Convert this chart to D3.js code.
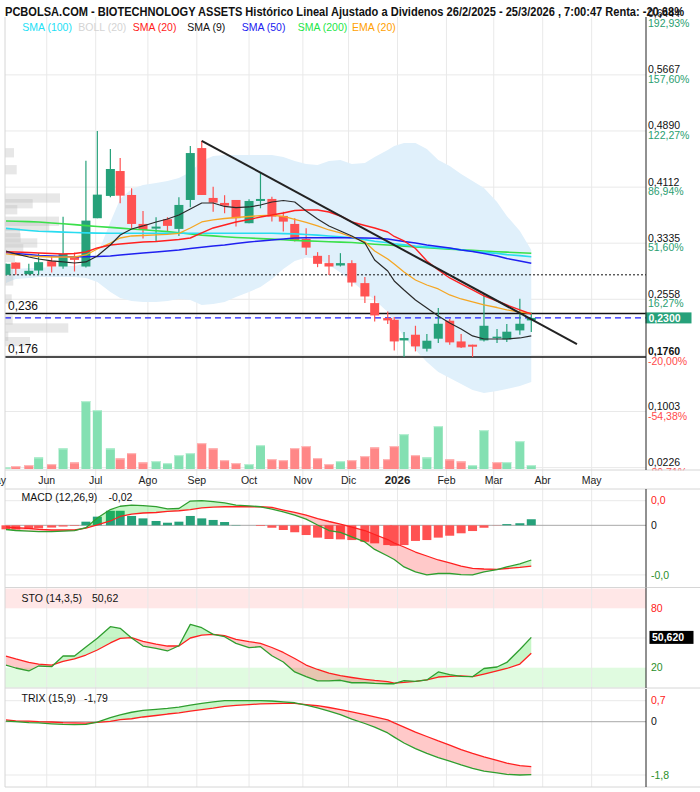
<!DOCTYPE html>
<html><head><meta charset="utf-8">
<script src="https://cdn.jsdelivr.net/npm/d3@7"></script>
<style>body{margin:0;background:#fff}svg{display:block}text{font-family:"Liberation Sans",Arial,sans-serif}</style>
</head><body><svg id="c" width="700" height="792"></svg>
<script>
// ---------------- DATA ----------------
const dates = ["2025-05-07","2025-05-13","2025-05-21","2025-05-27","2025-06-04","2025-06-11","2025-06-18","2025-06-25","2025-07-02","2025-07-10","2025-07-16","2025-07-23","2025-07-30","2025-08-07","2025-08-14","2025-08-21","2025-08-28","2025-09-04","2025-09-11","2025-09-18","2025-09-25","2025-10-03","2025-10-10","2025-10-17","2025-10-24","2025-10-31","2025-11-07","2025-11-14","2025-11-21","2025-11-28","2025-12-05","2025-12-13","2025-12-19","2025-12-27","2025-12-31","2026-01-06","2026-01-13","2026-01-20","2026-01-27","2026-02-03","2026-02-10","2026-02-17","2026-02-24","2026-03-04","2026-03-10","2026-03-18","2026-03-25"];
const open  = [.2897,.3067,.2907,.2956,.3086,.3012,.3150,.3012,.3681,.3990,.4335,.4003,.3602,.3537,.3667,.3533,.3934,.4653,.3962,.3893,.3934,.3612,.3920,.3948,.3713,.3602,.3395,.3160,.3059,.3026,.3059,.2782,.2505,.2298,.2274,.1988,.2067,.1873,.2012,.2261,.1974,.1929,.1988,.2026,.2002,.2127,.2265];
const high  = [.3055,.3067,.3049,.3197,.3150,.3703,.3205,.4478,.4888,.4640,.4515,.4096,.3782,.3695,.3695,.3971,.4681,.4754,.4118,.4000,.3934,.3944,.4312,.3980,.3772,.3681,.3543,.3211,.3173,.3197,.3100,.2865,.2606,.2389,.2312,.2104,.2191,.2077,.2436,.2284,.2077,.1929,.2644,.2146,.2215,.2565,.2375];
const low   = [.2890,.2897,.2900,.2897,.2929,.2980,.2943,.3000,.3681,.3971,.3889,.3543,.3399,.3357,.3496,.3436,.3833,.4003,.3772,.3750,.3565,.3612,.3819,.3634,.3496,.3357,.3173,.3003,.2893,.3012,.2735,.2505,.2251,.2215,.1850,.1759,.1836,.1836,.1952,.1929,.1883,.1759,.1974,.1952,.1966,.2067,.2104];
const close = [.3049,.2980,.2952,.3072,.3012,.3187,.3104,.3648,.4008,.4363,.3994,.3602,.3519,.3565,.3575,.3865,.4584,.4003,.3897,.3855,.3681,.3920,.3948,.3703,.3634,.3371,.3274,.3049,.3012,.3059,.2790,.2597,.2334,.2265,.1974,.2021,.1905,.1984,.2219,.1961,.1891,.1901,.2191,.2040,.2109,.2219,.2300];
const volume = [1.5,3,4,11.7,5,20.7,6.7,68,59,20.7,10.7,16,6.7,8,6,14,16,26,20.7,9,6,5,24,10,9,21,23,11,5,8,9,13,21.7,10,23,35,14,11.7,43,9.7,7.7,4,39,7,7,28,4];

const sma9   = [.3227,.3186,.3144,.3116,.3089,.3075,.3061,.3075,.3158,.3310,.3449,.3532,.3574,.3629,.3670,.3726,.3809,.3892,.3892,.3844,.3827,.3837,.3864,.3906,.3927,.3906,.3781,.3670,.3574,.3504,.3435,.3338,.3102,.2950,.2812,.2687,.2548,.2437,.2327,.2230,.2147,.2050,.2008,.2008,.2008,.2022,.2050];
const sma20  = [.3217,.3213,.3206,.3199,.3193,.3186,.3193,.3213,.3269,.3310,.3324,.3338,.3352,.3359,.3373,.3386,.3407,.3477,.3546,.3587,.3629,.3664,.3698,.3726,.3754,.3788,.3795,.3795,.3767,.3712,.3629,.3580,.3546,.3490,.3428,.3366,.3262,.3089,.2964,.2853,.2770,.2687,.2604,.2534,.2479,.2410,.2354];
const ema20  = [.3186,.3172,.3158,.3151,.3144,.3144,.3144,.3172,.3255,.3338,.3407,.3435,.3442,.3449,.3456,.3470,.3546,.3629,.3657,.3677,.3691,.3705,.3716,.3723,.3705,.3664,.3622,.3574,.3518,.3477,.3421,.3352,.3227,.3116,.3047,.2936,.2825,.2756,.2701,.2618,.2562,.2521,.2479,.2444,.2410,.2382,.2361];
const sma50  = [.3204,.3193,.3179,.3165,.3158,.3151,.3148,.3148,.3151,.3158,.3172,.3186,.3199,.3213,.3227,.3241,.3262,.3278,.3296,.3310,.3331,.3352,.3366,.3380,.3393,.3407,.3411,.3411,.3411,.3411,.3411,.3407,.3404,.3393,.3380,.3359,.3338,.3310,.3289,.3269,.3241,.3220,.3193,.3158,.3123,.3089,.3057];
const sma100 = [.3540,.3528,.3511,.3501,.3495,.3489,.3483,.3478,.3474,.3472,.3472,.3472,.3472,.3472,.3472,.3472,.3472,.3472,.3472,.3472,.3472,.3472,.3472,.3472,.3468,.3464,.3456,.3447,.3435,.3425,.3409,.3385,.3362,.3341,.3328,.3312,.3294,.3284,.3273,.3263,.3242,.3223,.3208,.3194,.3177,.3163,.3148];
const sma200 = [.3643,.3639,.3634,.3628,.3615,.3605,.3593,.3579,.3567,.3554,.3544,.3532,.3521,.3507,.3495,.3479,.3463,.3447,.3436,.3424,.3414,.3406,.3399,.3391,.3382,.3374,.3367,.3362,.3356,.3350,.3344,.3331,.3321,.3310,.3303,.3295,.3284,.3274,.3263,.3253,.3244,.3235,.3227,.3217,.3211,.3202,.3195];
const bollUpper = [.2964,.2978,.2992,.2992,.3005,.3019,.3019,.3061,.3172,.3629,.3948,.4086,.4142,.4169,.4197,.4238,.4322,.4474,.4543,.4557,.4557,.4557,.4557,.4557,.4529,.4474,.4432,.4419,.4474,.4488,.4432,.4446,.4529,.4626,.4682,.4723,.4723,.4640,.4488,.4405,.4294,.4197,.4100,.3906,.3712,.3504,.3241];
const bollLower = [.2784,.2839,.2853,.2867,.2867,.2867,.2867,.2853,.2798,.2659,.2576,.2534,.2521,.2521,.2534,.2562,.2548,.2479,.2493,.2521,.2590,.2659,.2728,.2839,.2978,.3089,.3137,.3123,.3033,.2929,.2805,.2659,.2548,.2382,.2244,.2036,.1856,.1689,.1551,.1468,.1385,.1301,.1260,.1288,.1315,.1357,.1412];

const macdLine   = [-.0024,-.0030,-.0034,-.0036,-.0036,-.0034,-.0031,-.0014,.0042,.0091,.0110,.0117,.0114,.0108,.0095,.0097,.0140,.0142,.0137,.0129,.0117,.0112,.0107,.0094,.0078,.0059,.0036,.0002,-.0030,-.0041,-.0067,-.0096,-.0139,-.0177,-.0197,-.0240,-.0269,-.0286,-.0278,-.0278,-.0284,-.0286,-.0269,-.0255,-.0240,-.0223,-.0200];
const macdSignal = [-.0009,-.0014,-.0018,-.0023,-.0027,-.0027,-.0027,-.0016,.0002,.0025,.0051,.0065,.0071,.0074,.0080,.0084,.0091,.0101,.0105,.0107,.0107,.0107,.0107,.0103,.0088,.0074,.0059,.0039,.0022,.0007,-.0010,-.0030,-.0053,-.0082,-.0102,-.0125,-.0154,-.0177,-.0200,-.0217,-.0235,-.0248,-.0252,-.0254,-.0249,-.0243,-.0235];
const macdHist   = [-.0023,-.0024,-.0021,-.0018,-.0013,-.0007,-.0003,.0021,.0050,.0084,.0084,.0054,.0040,.0025,.0015,.0021,.0054,.0040,.0031,.0019,.0002,.0000,-.0004,-.0014,-.0027,-.0040,-.0056,-.0071,-.0079,-.0081,-.0085,-.0095,-.0104,-.0114,-.0118,-.0114,-.0090,-.0085,-.0071,-.0060,-.0046,-.0033,-.0014,-.0001,.0007,.0012,.0035];

const stoK = [22.7,19.7,16.7,21.7,21.0,31.8,31.8,40.9,49.7,61.4,59.8,50.0,41.9,39.6,36.9,42.2,63.8,60.4,53.7,51.3,44.6,40.2,41.2,32.1,25.8,15.7,10.9,6.6,6.6,7.3,4.8,4.8,4.2,3.8,3.8,6.9,6.1,7.6,15.7,13.1,11.3,10.9,19.2,20.7,25.3,38.4,50.62];
const stoD = [31.8,28.8,25.3,23.7,22.7,26.3,28.8,32.8,37.9,45.0,49.7,50.3,46.5,43.9,41.9,41.9,50.0,53.0,53.7,52.3,48.7,46.3,44.6,40.4,35.4,29.3,22.7,18.2,14.6,11.9,10.1,8.3,7.1,5.9,4.5,5.1,6.1,7.6,10.6,11.3,11.8,10.9,13.6,16.7,19.2,23.7,34.5];

const trix       = [.02,.00,-.03,-.04,-.07,-.09,-.10,-.09,-.01,.14,.23,.32,.38,.42,.45,.49,.56,.62,.67,.71,.71,.71,.71,.70,.67,.64,.56,.47,.36,.24,.09,-.06,-.18,-.38,-.52,-.72,-.91,-1.07,-1.21,-1.33,-1.46,-1.58,-1.67,-1.73,-1.78,-1.80,-1.79];
const trixSignal = [.06,.03,.02,.00,-.01,-.03,-.04,-.05,-.02,.01,.07,.10,.16,.21,.26,.30,.36,.41,.46,.52,.55,.58,.60,.61,.62,.62,.58,.54,.48,.41,.33,.24,.16,.06,-.04,-.18,-.35,-.50,-.65,-.79,-.94,-1.07,-1.19,-1.31,-1.40,-1.48,-1.52];

const profilePrice  = [.4588,.4353,.3961,.3882,.3799,.3639,.3569,.3479,.3410,.3338,.3259,.3137,.2940,.2812,.2562,.2271,.2160,.2045,.1971];
const profileVolume = [9,11.7,55,27.7,12.3,54,44.3,15,15.7,32.3,18.3,10,8,8.3,6.7,7.7,63.3,3.3,25];

const gridPrices  = [0.6444,0.5667,0.4890,0.4112,0.3335,0.2558,0.1781,0.1003,0.0226];
const labelPrices = [0.6444,0.5667,0.4890,0.4112,0.3335,0.2558,0.1760,0.1003,0.0226];
const pctLabels   = ["192,93%","157,60%","122,27%","86,94%","51,60%","16,27%","-20,00%","-54,38%","-89,71%"];
const lastPrice = 0.2300;

const monthTickDates = ["2025-05-01","2025-06-01","2025-07-01","2025-08-02","2025-09-01","2025-10-03","2025-11-05","2025-12-03","2026-01-02","2026-02-01","2026-03-02","2026-04-01","2026-05-01"];
const monthLabels    = ["May","Jun","Jul","Ago","Sep","Oct","Nov","Dic","2026","Feb","Mar","Abr","May"];

const levelDotted = 0.2897, levelUpper = 0.236, levelLast = 0.23, levelLower = 0.176;
const trendDates = ["2025-09-04","2026-04-22"], trendPrices = [0.4754, 0.1938];

const titleText = "PCBOLSA.COM - BIOTECHNOLOGY ASSETS Histórico Lineal Ajustado a Dividenos 26/2/2025 - 25/3/2026 , 7:00:47 Renta: -20,68%";
const legendLabels = ["SMA (100)","BOLL (20)","SMA (20)","SMA (9)","SMA (50)","SMA (200)","EMA (20)"];

// ---------------- DRAW ----------------
const parse = d3.timeParse("%Y-%m-%d");
const fmt = (v,p) => v.toFixed(p).replace(".",",");
const D = dates.map(parse);
const N = D.length;
const svg = d3.select("#c");
const L = 5, R = 646, TOP = 17, PB = 470;
const C = {up:"#26a17a", dn:"#ff5252", vup:"#84e0b2", vdn:"#ff8787", grid:"#e9e9e9"};

const x = d3.scaleTime().domain([parse("2025-06-01"), parse("2026-04-01")]).range([46.76, 542.7]);
const y = d3.scaleLinear().domain([0.0226, 0.6444]).range([467.6, 18.8]);
const yVol = d3.scaleLinear().domain([0, 70]).range([469, 399]);
const yMacd = d3.scaleLinear().domain([d3.min(macdLine), d3.max(macdLine)]).range([574.9, 500.7]);
const ySto = d3.scaleLinear().domain([0, 100]).range([687.5, 588.5]);
const yTrix = d3.scaleLinear().domain([d3.min(trix), d3.max(trix)]).range([775, 700.7]);
const xs = D.map(d => x(d));

svg.append("rect").attr("width",700).attr("height",792).attr("fill","#fff");
svg.append("defs").append("clipPath").attr("id","clipMain").append("rect")
  .attr("x",L).attr("y",TOP).attr("width",R-L).attr("height",PB-TOP);

// STO bands
svg.append("rect").attr("x",L).attr("y",ySto(100)).attr("width",R-L).attr("height",ySto(80)-ySto(100)).attr("fill","#ffe7e7");
svg.append("rect").attr("x",L).attr("y",ySto(20)).attr("width",R-L).attr("height",ySto(0)-ySto(20)).attr("fill","#e0fbe0");

// vertical gridlines
monthTickDates.map(parse).forEach(d => {
  const xx = x(d);
  if (xx > L && xx < R) svg.append("line").attr("x1",xx).attr("x2",xx).attr("y1",TOP).attr("y2",787).attr("stroke",C.grid);
});
// horizontal gridlines
const hgrid = (yy, col) => svg.append("line").attr("x1",L).attr("x2",R).attr("y1",yy).attr("y2",yy).attr("stroke",col||C.grid);
gridPrices.slice(1).forEach(p => hgrid(y(p)));
hgrid(yMacd.range()[0]); hgrid(yMacd.range()[1]); hgrid(yMacd(0), "#a8a8a8");
hgrid(ySto(50));
hgrid(yTrix.range()[0]); hgrid(yTrix.range()[1]); hgrid(yTrix(0), "#a8a8a8");

// ---- main panel ----
const g = svg.append("g").attr("clip-path","url(#clipMain)");
g.append("path").attr("fill","#e0f0fb")
  .attr("d", d3.area().x((d,i)=>xs[i]).y0((d,i)=>y(bollLower[i])).y1(d=>y(d))(bollUpper));

// volume profile
const binH = 9.3;
const xProf = d3.scaleLinear().domain([0, 70]).range([L, L + 70]);
profilePrice.forEach((p,i) => {
  g.append("rect").attr("x",L).attr("y",y(p)-binH/2).attr("width",xProf(profileVolume[i])-L).attr("height",binH)
   .attr("fill","#b8b8b8").attr("fill-opacity",0.34);
});

// volume bars
volume.forEach((v,i) => {
  const upv = i === 0 ? close[i] >= open[i] : close[i] >= close[i-1];
  g.append("rect").attr("x",xs[i]-4.5).attr("y",yVol(v)).attr("width",9).attr("height",yVol(0)-yVol(v))
   .attr("fill", upv ? C.vup : C.vdn);
  g.append("rect").attr("x",xs[i]-4.5).attr("y",yVol(v)).attr("width",9).attr("height",1.2)
   .attr("fill", upv ? "#b6efd2" : "#ffb8b8");
});

// horizontal levels
const hl = (p, col, w, dash) => g.append("line").attr("x1",L).attr("x2",R).attr("y1",y(p)).attr("y2",y(p))
  .attr("stroke",col).attr("stroke-width",w).attr("stroke-dasharray",dash||null);
hl(levelDotted, "#111", 1, "2,2");
hl(levelUpper, "#111", 1.5);
hl(levelLast, "#1c1cff", 1.2, "6,4");
hl(levelLower, "#111", 1.5);

// candles
for (let i = 0; i < N; i++) {
  const col = close[i] >= open[i] ? C.up : C.dn;
  g.append("line").attr("x1",xs[i]).attr("x2",xs[i]).attr("y1",y(high[i])).attr("y2",y(low[i])).attr("stroke",col).attr("stroke-width",1.2);
  const t = y(Math.max(open[i],close[i])), b = y(Math.min(open[i],close[i]));
  g.append("rect").attr("x",xs[i]-4.5).attr("y",t).attr("width",9).attr("height",Math.max(1.5,b-t)).attr("fill",col);
}

// moving averages
const ln = (arr, col, w) => g.append("path").attr("fill","none").attr("stroke",col).attr("stroke-width",w)
  .attr("stroke-linejoin","round").attr("d", d3.line().x((d,i)=>xs[i]).y(d=>y(d))(arr));
ln(sma200, "#3ae04a", 1.6);
ln(sma100, "#28dcf0", 1.6);
ln(sma50, "#2020f0", 1.4);
ln(ema20, "#f5a623", 1.3);
ln(sma20, "#ff2020", 1.4);
ln(sma9, "#2a2a2a", 1.2);

// trend line
g.append("path").attr("fill","none").attr("stroke","#222").attr("stroke-width",2)
  .attr("d", d3.line().x(d=>x(parse(d[0]))).y(d=>y(d[1]))(trendDates.map((d,i)=>[d,trendPrices[i]])));

// level labels
[levelUpper, levelLower].forEach(p => {
  svg.append("text").attr("x",8).attr("y",y(p)-4).attr("font-size",12).attr("fill","#111").text(fmt(p,3));
});

// right axis (price)
labelPrices.forEach((p,i) => {
  const yy = y(gridPrices[i] === 0.1781 ? p : p);
  svg.append("text").attr("x",648).attr("y",yy-1.5).attr("font-size",10.5)
    .attr("font-weight", p === levelLower ? "bold" : null).attr("fill","#111").text(fmt(p,4));
  svg.append("text").attr("x",648).attr("y",yy+8).attr("font-size",10.5)
    .attr("fill", pctLabels[i][0] === "-" ? "#ff4a4a" : "#2a9e70").text(pctLabels[i]);
});
svg.append("rect").attr("x",645.5).attr("y",y(lastPrice)-5.5).attr("width",46).attr("height",11).attr("fill","#26a17a");
svg.append("text").attr("x",648.5).attr("y",y(lastPrice)+4).attr("font-size",10.5).attr("font-weight","bold").attr("fill","#fff").text(fmt(lastPrice,4));

// strip cover + separators
svg.append("rect").attr("x",647).attr("y",PB+0.5).attr("width",53).attr("height",18).attr("fill","#fff");
[PB, 489, 587.5, 688, 787].forEach(yy => svg.append("line").attr("x1",L).attr("x2",700).attr("y1",yy).attr("y2",yy).attr("stroke","#d6d6d6"));
svg.append("line").attr("x1",L).attr("x2",L).attr("y1",TOP).attr("y2",787).attr("stroke","#d6d6d6");
[[TOP,PB],[489,587.5],[588,688],[689,787]].forEach(s => svg.append("line").attr("x1",R).attr("x2",R).attr("y1",s[0]).attr("y2",s[1]).attr("stroke","#222"));

// month labels
monthTickDates.map(parse).forEach((d,i) => {
  const is26 = monthLabels[i] === "2026";
  svg.append("text").attr("x",x(d)).attr("y",484).attr("text-anchor","middle")
    .attr("font-size", is26 ? 11.5 : 10.5).attr("font-weight", is26 ? "bold" : null).attr("fill","#222").text(monthLabels[i]);
});

// fill between helper
function fillBetween(a, b, ys, cUp, cDn) {
  const pts = [];
  for (let i = 0; i < a.length; i++) {
    if (i > 0) {
      const d0 = a[i-1]-b[i-1], d1 = a[i]-b[i];
      if (d0*d1 < 0) {
        const t = d0/(d0-d1);
        const v = a[i-1] + t*(a[i]-a[i-1]);
        pts.push({x: xs[i-1] + t*(xs[i]-xs[i-1]), a: v, b: v});
      }
    }
    pts.push({x: xs[i], a: a[i], b: b[i]});
  }
  svg.append("path").attr("fill",cUp).attr("d", d3.area().x(p=>p.x).y0(p=>ys(p.b)).y1(p=>ys(Math.max(p.a,p.b)))(pts));
  svg.append("path").attr("fill",cDn).attr("d", d3.area().x(p=>p.x).y0(p=>ys(p.b)).y1(p=>ys(Math.min(p.a,p.b)))(pts));
}
const FUP = "rgba(0,215,0,0.22)", FDN = "rgba(255,0,0,0.21)";
const subLine = (arr, ys, col) => svg.append("path").attr("fill","none").attr("stroke",col).attr("stroke-width",1.3)
  .attr("stroke-linejoin","round").attr("d", d3.line().x((d,i)=>xs[i]).y(d=>ys(d))(arr));
const rLabel = (txt, yy, col, bold) => svg.append("text").attr("x",651).attr("y",yy).attr("dy","0.35em")
  .attr("font-size",10.5).attr("font-weight", bold ? "bold" : null).attr("fill",col).text(txt);
const hdr = (txt, val, yy) => {
  svg.append("text").attr("x",21.5).attr("y",yy).attr("font-size",10.5).attr("fill","#111").text(txt);
  svg.append("text").attr("x",108.5).attr("y",yy).attr("font-size",10.5).attr("fill","#111").text(val);
};

// MACD
macdHist.forEach((v,i) => {
  if (v === 0) return;
  const y0 = yMacd(0), y1 = yMacd(v);
  svg.append("rect").attr("x",xs[i]-4.5).attr("y",Math.min(y0,y1)).attr("width",9).attr("height",Math.abs(y1-y0))
    .attr("fill", v > 0 ? C.up : C.dn);
});
fillBetween(macdLine, macdSignal, yMacd, FUP, FDN);
subLine(macdSignal, yMacd, "#ff2020");
subLine(macdLine, yMacd, "#2f9e2f");
hdr("MACD (12,26,9)", fmt(macdLine[N-1],2), 500.5);
rLabel(fmt(yMacd.domain()[1],1), yMacd.range()[1], "#ff2020");
rLabel("0", yMacd(0), "#111");
rLabel(fmt(yMacd.domain()[0],1), yMacd.range()[0], "#2a8f2a");

// STO
fillBetween(stoK, stoD, ySto, FUP, FDN);
subLine(stoD, ySto, "#ff2020");
subLine(stoK, ySto, "#2f9e2f");
svg.append("text").attr("x",21.5).attr("y",601.5).attr("font-size",10.5).attr("fill","#111").text("STO (14,3,5)");
svg.append("text").attr("x",92).attr("y",601.5).attr("font-size",10.5).attr("fill","#111").text(fmt(stoK[N-1],2));
rLabel("80", ySto(80), "#ff2020");
rLabel("20", ySto(20), "#2a8f2a");
svg.append("rect").attr("x",649.5).attr("y",ySto(stoK[N-1])-6.5).attr("width",44).attr("height",13).attr("fill","#000");
svg.append("text").attr("x",652).attr("y",ySto(stoK[N-1])).attr("dy","0.35em").attr("font-size",10.5).attr("font-weight","bold").attr("fill","#fff").text(fmt(stoK[N-1],3));

// TRIX
fillBetween(trix, trixSignal, yTrix, FUP, FDN);
subLine(trixSignal, yTrix, "#ff2020");
subLine(trix, yTrix, "#2f9e2f");
svg.append("text").attr("x",21.5).attr("y",701.5).attr("font-size",10.5).attr("fill","#111").text("TRIX (15,9)");
svg.append("text").attr("x",84).attr("y",701.5).attr("font-size",10.5).attr("fill","#111").text(fmt(trix[N-1],2));
rLabel(fmt(yTrix.domain()[1],1), yTrix.range()[1], "#ff2020");
rLabel("0", yTrix(0), "#111");
rLabel(fmt(yTrix.domain()[0],1), yTrix.range()[0], "#2a8f2a");

// title & legend
svg.append("text").attr("x",5).attr("y",16).attr("font-size",12).attr("font-weight","bold").attr("fill","#111")
  .attr("textLength",679).attr("lengthAdjust","spacingAndGlyphs").text(titleText);
const legendColors = ["#22e0f5","#d4d4d4","#ff1a1a","#111","#2020f0","#1ee648","#ffa000"];
const legendX = [22.3, 78.3, 132.7, 187.3, 241.7, 297.7, 352];
legendLabels.forEach((t,i) => svg.append("text").attr("x",legendX[i]).attr("y",30.7).attr("font-size",10.5).attr("fill",legendColors[i]).text(t));
</script></body></html>
